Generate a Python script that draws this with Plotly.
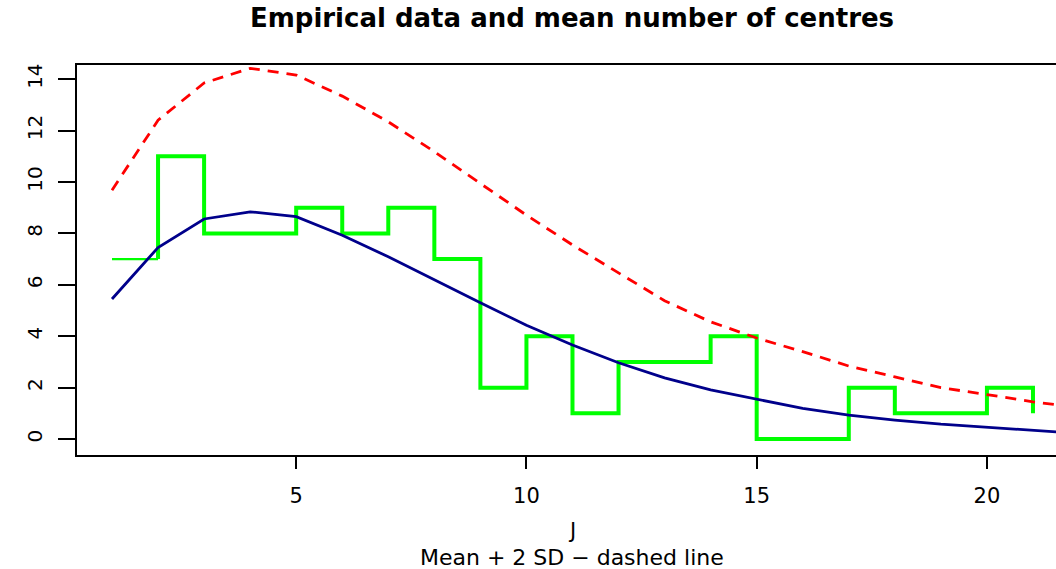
import plotly.graph_objects as go

# Observed counts per J (step line)
j_obs = [1, 2, 3, 4, 5, 6, 7, 8, 9, 10, 11, 12, 13, 14, 15, 16, 17, 18, 19, 20, 21]
counts = [7, 11, 8, 8, 9, 8, 9, 7, 2, 4, 1, 3, 3, 4, 0, 0, 2, 1, 1, 2, 1]

# Model curves: mean and mean + 2 SD
j_model = [1, 2, 3, 4, 5, 6, 7, 8, 9, 10, 11, 12, 13, 14, 15, 16, 17, 18, 19, 20, 21, 22]
mean_centres = [5.45, 7.45, 8.56, 8.84, 8.65, 7.93, 7.09, 6.18, 5.30, 4.43, 3.66,
                2.97, 2.38, 1.91, 1.54, 1.19, 0.93, 0.74, 0.58, 0.46, 0.32, 0.22]
upper_2sd = [9.68, 12.40, 13.85, 14.42, 14.16, 13.34, 12.34, 11.18, 9.94, 8.71, 7.55,
             6.46, 5.38, 4.56, 3.93, 3.40, 2.84, 2.42, 2.00, 1.73, 1.45, 1.22]

x_ticks = [5, 10, 15, 20]
y_ticks = [0, 2, 4, 6, 8, 10, 12, 14]

FONT = "DejaVu Sans"
XMID = (572 - 77) / 979

fig = go.Figure()

# first step drawn thin, remaining steps thick
fig.add_trace(go.Scatter(
    x=j_obs[:2], y=[counts[0], counts[0]], mode="lines",
    line=dict(color="#00FF00", width=2.2), showlegend=False, hoverinfo="skip"))
fig.add_trace(go.Scatter(
    x=[j_obs[1]] + j_obs[1:], y=[counts[0]] + counts[1:], mode="lines",
    line=dict(color="#00FF00", width=4, shape="hv"), showlegend=False, hoverinfo="skip"))

fig.add_trace(go.Scatter(
    x=j_model, y=mean_centres, mode="lines",
    line=dict(color="#00008B", width=2.8), showlegend=False))
fig.add_trace(go.Scatter(
    x=j_model, y=upper_2sd, mode="lines",
    line=dict(color="#FF0000", width=2.8, dash="11px,8px"), showlegend=False))

fig.update_layout(
    width=1056, height=569,
    margin=dict(l=77, r=0, t=65, b=114),
    paper_bgcolor="white", plot_bgcolor="white",
    font=dict(family=FONT, color="black"),
    title=dict(text="<b>Empirical data and mean number of centres</b>",
               x=XMID, xref="paper", xanchor="center",
               y=1 - 18 / 569, yref="container", yanchor="middle",
               font=dict(family=FONT, size=26, color="black")),
    xaxis=dict(range=[0.24, 21.5], tickvals=x_ticks, ticktext=[str(v) for v in x_ticks],
               showgrid=False, zeroline=False, showline=True, mirror=True,
               linecolor="black", linewidth=2, ticks="outside", ticklen=12,
               tickwidth=2, tickcolor="black", tickfont=dict(size=21),
               ticklabelstandoff=9),
    yaxis=dict(range=[-0.62, 14.55], tickvals=y_ticks, ticktext=[str(v) for v in y_ticks],
               showgrid=False, zeroline=False, showline=True, mirror=False,
               linecolor="black", linewidth=2, ticks="outside", ticklen=17,
               tickwidth=2, tickcolor="black", tickfont=dict(size=20),
               tickangle=-90, ticklabelstandoff=8),
    annotations=[
        dict(text="J", xref="paper", yref="paper", x=XMID, y=0,
             yshift=-76, xanchor="center", yanchor="middle", showarrow=False,
             font=dict(family=FONT, size=21)),
        dict(text="Mean + 2 SD \u2212 dashed line", xref="paper", yref="paper",
             x=XMID, y=0, yshift=-102, xanchor="center", yanchor="middle",
             showarrow=False, font=dict(family=FONT, size=22)),
    ],
)

fig.write_html("out.html")
